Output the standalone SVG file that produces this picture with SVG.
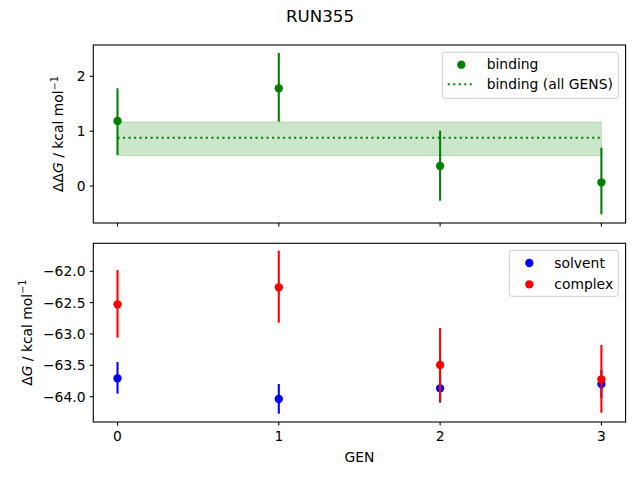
<svg xmlns="http://www.w3.org/2000/svg" width="640" height="480" viewBox="0 0 640 480">
<style>
text{font-family:"DejaVu Sans",sans-serif;font-size:13.89px;fill:#000}
.ty{text-anchor:end}
.tx{text-anchor:middle}
.spine{fill:none;stroke:#000;stroke-width:1.1}
.tick{stroke:#000;stroke-width:1.1}
.eg{stroke:#008000;stroke-width:2.08}
.eb{stroke:#0000ff;stroke-width:2.08}
.er{stroke:#ff0000;stroke-width:2.08}
.leg{fill:#fff;fill-opacity:0.8;stroke:#cccccc;stroke-width:1}
</style>
<rect width="640" height="480" fill="#fff"/>
<text x="320" y="22" class="tx" style="font-size:16.67px">RUN355</text>

<g id="top-axes">
  <rect x="117.5" y="122" width="483.9" height="33.7" fill="#008000" fill-opacity="0.2" stroke="#008000" stroke-opacity="0.2" stroke-width="1"/>
  <line x1="117.5" y1="137.7" x2="601.4" y2="137.7" stroke="#008000" stroke-width="2.08" stroke-dasharray="2.08 3.44"/>
  <g id="binding-points">
    <line class="eg" x1="117.5" y1="88.3" x2="117.5" y2="155"/>
    <line class="eg" x1="278.8" y1="53" x2="278.8" y2="121.7"/>
    <line class="eg" x1="440.1" y1="130.7" x2="440.1" y2="200.7"/>
    <line class="eg" x1="601.4" y1="147.7" x2="601.4" y2="214.3"/>
    <circle cx="117.5" cy="121" r="4.17" fill="#008000"/>
    <circle cx="278.8" cy="88.3" r="4.17" fill="#008000"/>
    <circle cx="440.1" cy="166" r="4.17" fill="#008000"/>
    <circle cx="601.4" cy="182.3" r="4.17" fill="#008000"/>
  </g>
  <rect class="spine" x="93.3" y="45" width="532.3" height="178"/>
  <g id="top-ticks">
    <line class="tick" x1="89.8" y1="76.3" x2="93.3" y2="76.3"/>
    <line class="tick" x1="89.8" y1="131.2" x2="93.3" y2="131.2"/>
    <line class="tick" x1="89.8" y1="186" x2="93.3" y2="186"/>
    <line class="tick" x1="117.5" y1="223" x2="117.5" y2="226.5"/>
    <line class="tick" x1="278.8" y1="223" x2="278.8" y2="226.5"/>
    <line class="tick" x1="440.1" y1="223" x2="440.1" y2="226.5"/>
    <line class="tick" x1="601.4" y1="223" x2="601.4" y2="226.5"/>
    <text class="ty" x="85.5" y="81.3">2</text>
    <text class="ty" x="85.5" y="136.2">1</text>
    <text class="ty" x="85.5" y="191">0</text>
  </g>
  <text transform="translate(63.3,134) rotate(-90)" class="tx">ΔΔ<tspan font-style="italic">G</tspan> / kcal mol<tspan dy="-5.5" style="font-size:9.7px">−1</tspan></text>
  <g id="top-legend">
    <rect class="leg" x="442.3" y="52.3" width="176" height="46" rx="2.5"/>
    <circle cx="461.3" cy="64.7" r="4.17" fill="#008000"/>
    <text x="486.7" y="69.4">binding</text>
    <line x1="447.7" y1="84.3" x2="471.7" y2="84.3" stroke="#008000" stroke-width="2.08" stroke-dasharray="2.08 3.44"/>
    <text x="486.7" y="89">binding (all GENS)</text>
  </g>
</g>

<g id="bottom-axes">
  <g id="solvent-points">
    <line class="eb" x1="117.5" y1="362" x2="117.5" y2="393.7"/>
    <line class="eb" x1="278.8" y1="384" x2="278.8" y2="413.7"/>
    <line class="eb" x1="440.1" y1="374" x2="440.1" y2="402.7"/>
    <line class="eb" x1="601.4" y1="370" x2="601.4" y2="398"/>
    <circle cx="117.5" cy="378.3" r="4.17" fill="#0000ff"/>
    <circle cx="278.8" cy="399" r="4.17" fill="#0000ff"/>
    <circle cx="440.1" cy="388.3" r="4.17" fill="#0000ff"/>
    <circle cx="601.4" cy="384" r="4.17" fill="#0000ff"/>
  </g>
  <g id="complex-points">
    <line class="er" x1="117.5" y1="270" x2="117.5" y2="337.7"/>
    <line class="er" x1="278.8" y1="250.7" x2="278.8" y2="322.7"/>
    <line class="er" x1="440.1" y1="328" x2="440.1" y2="401.7"/>
    <line class="er" x1="601.4" y1="345" x2="601.4" y2="412.7"/>
    <circle cx="117.5" cy="304.3" r="4.17" fill="#ff0000"/>
    <circle cx="278.8" cy="287.3" r="4.17" fill="#ff0000"/>
    <circle cx="440.1" cy="365" r="4.17" fill="#ff0000"/>
    <circle cx="601.4" cy="379.3" r="4.17" fill="#ff0000"/>
  </g>
  <rect class="spine" x="93.3" y="243.3" width="532.3" height="178.7"/>
  <g id="bottom-ticks">
    <line class="tick" x1="89.8" y1="271.3" x2="93.3" y2="271.3"/>
    <line class="tick" x1="89.8" y1="302.6" x2="93.3" y2="302.6"/>
    <line class="tick" x1="89.8" y1="334" x2="93.3" y2="334"/>
    <line class="tick" x1="89.8" y1="365.3" x2="93.3" y2="365.3"/>
    <line class="tick" x1="89.8" y1="396.7" x2="93.3" y2="396.7"/>
    <text class="ty" x="85.5" y="276.3">−62.0</text>
    <text class="ty" x="85.5" y="307.6">−62.5</text>
    <text class="ty" x="85.5" y="339">−63.0</text>
    <text class="ty" x="85.5" y="370.3">−63.5</text>
    <text class="ty" x="85.5" y="401.7">−64.0</text>
    <line class="tick" x1="117.5" y1="422" x2="117.5" y2="425.5"/>
    <line class="tick" x1="278.8" y1="422" x2="278.8" y2="425.5"/>
    <line class="tick" x1="440.1" y1="422" x2="440.1" y2="425.5"/>
    <line class="tick" x1="601.4" y1="422" x2="601.4" y2="425.5"/>
    <text class="tx" x="117.5" y="440.7">0</text>
    <text class="tx" x="278.8" y="440.7">1</text>
    <text class="tx" x="440.1" y="440.7">2</text>
    <text class="tx" x="601.4" y="440.7">3</text>
  </g>
  <text class="tx" x="359.5" y="461.5">GEN</text>
  <text transform="translate(31.7,332.7) rotate(-90)" class="tx">Δ<tspan font-style="italic">G</tspan> / kcal mol<tspan dy="-5.5" style="font-size:9.7px">−1</tspan></text>
  <g id="bottom-legend">
    <rect class="leg" x="509.3" y="250.3" width="109" height="46" rx="2.5"/>
    <circle cx="529.3" cy="263" r="4.17" fill="#0000ff"/>
    <text x="554.3" y="267.6">solvent</text>
    <circle cx="529.3" cy="284.3" r="4.17" fill="#ff0000"/>
    <text x="554.3" y="288.8">complex</text>
  </g>
</g>
</svg>
